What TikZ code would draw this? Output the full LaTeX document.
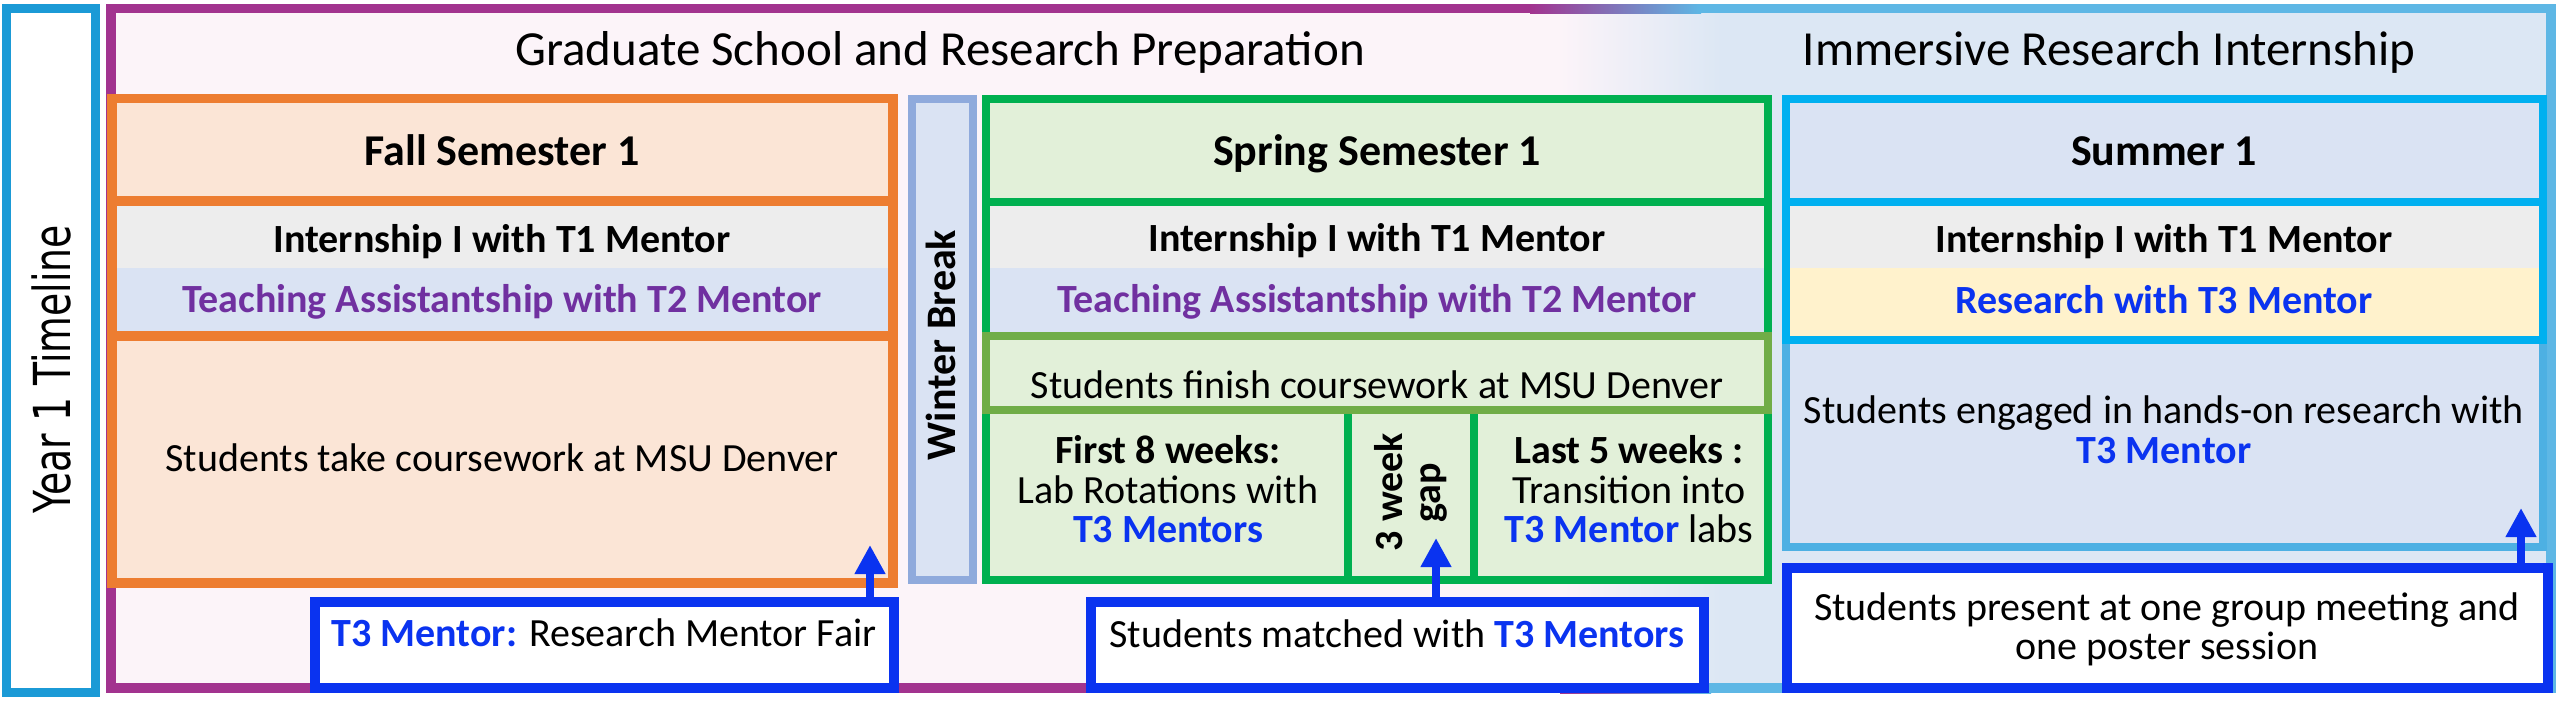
\documentclass[tikz,border=0pt]{standalone}
\usepackage{fontspec}
\setmainfont{Carlito}
\newfontfamily\djv{DejaVu Sans}
\usetikzlibrary{fit,arrows.meta}
\definecolor{bgpink}{HTML}{FCF4F9}
\definecolor{bgblue}{HTML}{DCE7F4}
\definecolor{fpurple}{HTML}{A2338F}
\definecolor{fmid}{HTML}{C9B3DD}
\definecolor{fblue}{HTML}{5EB7E5}
\definecolor{yearB}{HTML}{1B9AD6}
\definecolor{orangeB}{HTML}{ED7D31}
\definecolor{peach}{HTML}{FBE5D6}
\definecolor{rowgray}{HTML}{EDEDED}
\definecolor{rowblue}{HTML}{DAE3F3}
\definecolor{tpurple}{HTML}{7030A0}
\definecolor{winterB}{HTML}{8FAADC}
\definecolor{sgreen}{HTML}{00B050}
\definecolor{lgreen}{HTML}{E2F0D9}
\definecolor{ogreen}{HTML}{70AD47}
\definecolor{cyanB}{HTML}{00B0F0}
\definecolor{cyanL}{HTML}{4DB0E3}
\definecolor{ryellow}{HTML}{FFF2CC}
\definecolor{bblue}{HTML}{0A33F0}
\begin{document}
\begin{tikzpicture}[x=0.3pt,y=-0.3pt,
  every node/.style={inner sep=0pt},
  bx/.style={rectangle,inner sep=0pt},
  txt/.style={anchor=base,font=\fontsize{12}{14}\selectfont},
  txtb/.style={anchor=base,font=\fontsize{12}{14}\selectfont\bfseries},
  ttl/.style={anchor=base,font=\fontsize{13.2}{16}\selectfont\bfseries},
  hdr/.style={anchor=base,font=\fontsize{14.7}{17}\selectfont},
  orbox/.style={bx,draw=orangeB,line width=2.8pt},
  grbox/.style={bx,draw=sgreen,line width=2.6pt},
  cybox/.style={bx,draw=cyanB,line width=2.6pt},
  blbox/.style={bx,draw=bblue,fill=white,line width=3pt},
  arr/.style={draw=bblue,line width=2.4pt,-{Triangle[length=8.7pt,width=8.7pt]}},
  t3/.style={}]
\newcommand\tthree[1]{{\bfseries\color{bblue}#1}}
\useasboundingbox (0,0) rectangle (2560,701);
\fill[white] (0,0) rectangle (2560,701);
% background of the program frame
\fill[bgpink] (111,8.5) rectangle (1561,688);
\shade[left color=bgpink,right color=bgblue] (1560,8.5) rectangle (1721,688);
\fill[bgblue] (1720,8.5) rectangle (2551,688);
% frame strips
\fill[fpurple] (106,4) rectangle (116,693);
\fill[fpurple] (106,4) rectangle (1531,13);
\shade[left color=fpurple,middle color=fmid,right color=fblue] (1530,4) rectangle (1701,13);
\fill[fblue] (1700,4) rectangle (2556,13);
\fill[fpurple] (106,683) rectangle (1561,693);
\shade[left color=fpurple,middle color=fmid,right color=fblue] (1560,683) rectangle (1711,693);
\fill[fblue] (1710,683) rectangle (2556,693);
\fill[fblue] (2546,4) rectangle (2556,693);
% year box
\node[bx,fill=white,draw=yearB,line width=2.7pt,fit={(6,8.5)(95,692)}] (year) {};
\node[rotate=90,anchor=base,font=\djv\fontsize{15.3}{18}\selectfont] (yearT) at (70,369.5) {\scalebox{0.74}[1]{Year 1 Timeline}};
% headers
\node[hdr] (hdrG) at (940,65) {Graduate School and Research Preparation};
\node[hdr] (hdrI) at (2109,65) {Immersive Research Internship};
% fall
\node[orbox,fill=peach,fit={(112,98.5)(893,201)}] (fallT) {};
\fill[rowgray] (112,201) rectangle (893,268);
\fill[rowblue] (112,268) rectangle (893,336);
\node[orbox,fit={(112,201)(893,336)}] (fallM) {};
\node[orbox,fill=peach,fit={(112,336)(893,583)}] (fallC) {};
\node[ttl] (fallTt) at (502,165) {Fall Semester 1};
\node[txtb] (fallI) at (502,252) {Internship I with T1 Mentor};
\node[txtb,text=tpurple] (fallTA) at (502,312) {Teaching Assistantship with T2 Mentor};
\node[txt] (fallCw) at (502,471) {Students take coursework at MSU Denver};
% winter
\node[bx,fill=rowblue,draw=winterB,line width=2.4pt,fit={(912,99)(972.5,580)}] (winter) {};
\node[rotate=90,anchor=base,font=\fontsize{12.6}{15}\selectfont\bfseries] (winterT) at (955,345) {Winter Break};
% spring
\node[grbox,fill=lgreen,fit={(986,99)(1768,202)}] (springT) {};
\fill[rowgray] (986,202) rectangle (1768,268);
\fill[rowblue] (986,268) rectangle (1768,336);
\node[grbox,fit={(986,202)(1768,336)}] (springM) {};
\node[grbox,fill=lgreen,fit={(986,410)(1348,580)}] (cellA) {};
\node[grbox,fill=lgreen,fit={(1348,410)(1474,580)}] (cellB) {};
\node[grbox,fill=lgreen,fit={(1474,410)(1768,580)}] (cellC) {};
\node[bx,fill=lgreen,draw=ogreen,line width=2.6pt,fit={(986,336)(1768,410)}] (springF) {};
\node[ttl] (springTt) at (1377,165) {Spring Semester 1};
\node[txtb] (springI) at (1377,251) {Internship I with T1 Mentor};
\node[txtb,text=tpurple] (springTA) at (1377,312) {Teaching Assistantship with T2 Mentor};
\node[txt] (springFt) at (1377,398) {Students finish coursework at MSU Denver};
\node[txtb] (a1) at (1168,463) {First 8 weeks:};
\node[txt] (a2) at (1168,503) {Lab Rotations with};
\node[txt] (a3) at (1168,542) {\tthree{T3 Mentors}};
\node[rotate=90,anchor=base,font=\fontsize{12}{14}\selectfont\bfseries] (b1) at (1402,492) {3 week};
\node[rotate=90,anchor=base,font=\fontsize{12}{14}\selectfont\bfseries] (b2) at (1440,493) {gap};
\node[txtb] (c1) at (1629,463) {Last 5 weeks :};
\node[txt] (c2) at (1629,503) {Transition into};
\node[txt] (c3) at (1629,542) {\tthree{T3 Mentor} labs};
% summer
\node[cybox,fill=rowblue,fit={(1786,99)(2543,202)}] (sumT) {};
\node[bx,fill=rowblue,draw=cyanL,line width=2.6pt,fit={(1786,340)(2543,547)}] (sumB) {};
\fill[rowgray] (1786,202) rectangle (2543,268);
\fill[ryellow] (1786,268) rectangle (2543,340);
\node[cybox,fit={(1786,202)(2543,340)}] (sumM) {};
\node[ttl] (sumTt) at (2164,165) {Summer 1};
\node[txtb] (sumI) at (2164,252) {Internship I with T1 Mentor};
\node[txtb,text=bblue] (sumR) at (2164,313) {Research with T3 Mentor};
\node[txt] (sumB1) at (2164,423) {Students engaged in hands-on research with};
\node[txt] (sumB2) at (2164,463) {\tthree{T3 Mentor}};
% blue boxes
\node[blbox,fit={(315,602)(894,688)}] (fair) {};
\node[txt] (fairT) at (604,646) {\tthree{T3 Mentor:} Research Mentor Fair};
\node[blbox,fit={(1091,602)(1704,688)}] (matched) {};
\node[txt] (matchedT) at (1397,647) {Students matched with \tthree{T3 Mentors}};
\node[blbox,fit={(1787,568)(2548,688)}] (present) {};
\node[txt] (presentT1) at (2167,620) {Students present at one group meeting and};
\node[txt] (presentT2) at (2167,659) {one poster session};
% arrows
\coordinate (tipF) at (870,545);
\coordinate (tipM) at (1436,538);
\coordinate (tipP) at (2521,508);
\draw[arr] (fair.north -| tipF) -- (tipF);
\draw[arr] (matched.north -| tipM) -- (tipM);
\draw[arr] (present.north -| tipP) -- (tipP);
\end{tikzpicture}
\end{document}
